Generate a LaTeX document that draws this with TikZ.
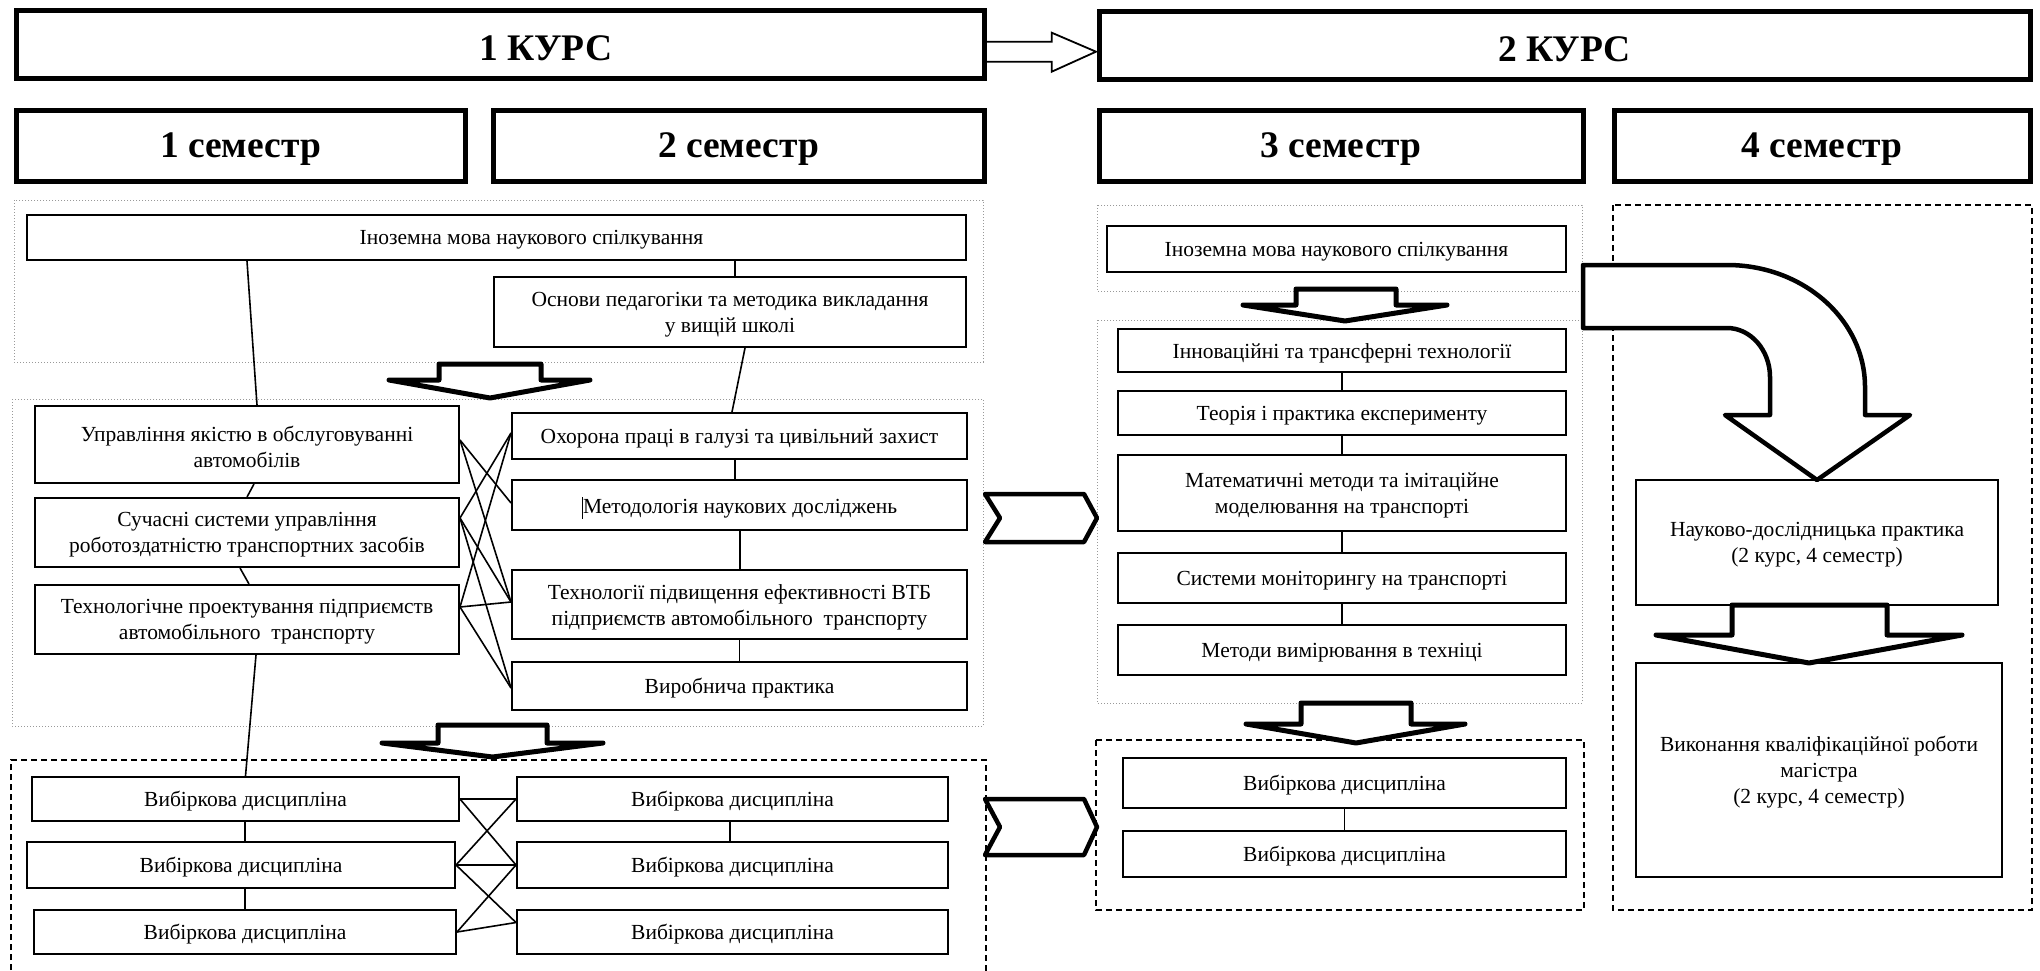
\documentclass[tikz,border=0pt]{standalone}
\usepackage{fontspec}
\setmainfont{Liberation Serif}
\usetikzlibrary{calc}
\tikzset{
  hdr/.style={draw, line width=5pt, fill=white, inner sep=0pt},
  hdrtext/.style={inner sep=0pt, yshift=-3.5pt, font=\fontsize{37.5}{41}\selectfont\bfseries},
  box/.style={draw, line width=2pt, fill=white, inner sep=0pt},
  boxtext/.style={inner sep=0pt, yshift=-2.5pt, align=center, font=\fontsize{21.5}{26}\selectfont},
  conn/.style={line width=1.6pt},
  grayframe/.style={draw=gray!80, dotted, line width=1pt},
  dashframe/.style={draw, dash pattern=on 6pt off 4pt, line width=2pt},
  blockarrow/.style={draw, fill=white, line width=5pt, line join=round},
  thinarrow/.style={draw, fill=white, line width=1.8pt, line join=miter},
}
\newcommand\rbox[7]{\node[#1, minimum width={#4-#3}, minimum height={#6-#5}] (#2) at ({(#3+#4)/2},{(#5+#6)/2}) {};
  \node[#1text] (#2-t) at (#2) {#7};}
\begin{document}
\begin{tikzpicture}[x=1pt,y=-1pt]
\useasboundingbox (0,0) rectangle (2040,971);

% containers
\draw[grayframe] (14,200) rectangle (983,362);
\draw[grayframe] (12,399) rectangle (983,726);
\draw[dashframe] (11,980) -- (11,760) -- (986,760) -- (986,980);
\draw[grayframe] (1097,205) rectangle (1582,291);
\draw[grayframe] (1097,320) rectangle (1582,703);
\draw[dashframe] (1096,740) rectangle (1584,910);
\draw[dashframe] (1613,205) rectangle (2032,910);

% headers
\rbox{hdr}{k1}{16}{984}{11}{79}{\hspace*{92pt}1 КУРС}
\rbox{hdr}{k2}{1099}{2030}{12}{80}{2 КУРС}
\rbox{hdr}{s1}{16}{465}{111}{181}{1 семестр}
\rbox{hdr}{s2}{493}{984}{111}{181}{2 семестр}
\rbox{hdr}{s3}{1099}{1583}{111}{181}{3 семестр}
\rbox{hdr}{s4}{1614}{2030}{111}{181}{4 семестр}

% arrow between courses
\draw[thinarrow] (987,41.7) -- (1051.7,41.7) -- (1051.7,32.7) -- (1096,51.7) -- (1051.7,71.7) -- (1051.7,61.7) -- (987,61.7);

% course 1 boxes
\rbox{box}{inoz1}{27}{966}{215}{260}{\hspace*{70pt}Іноземна мова наукового спілкування}
\rbox{box}{osn}{494}{966}{277}{347}{Основи педагогіки та методика викладання\\у вищій школі}
\rbox{box}{upr}{35}{459}{406}{483}{Управління якістю в обслуговуванні\\автомобілів}
\rbox{box}{such}{35}{459}{498}{567}{Сучасні системи управління\\роботоздатністю транспортних засобів}
\rbox{box}{tekhp}{35}{459}{585}{654}{Технологічне проектування підприємств\\автомобільного\ \ транспорту}
\rbox{box}{okh}{512}{967}{413}{459}{Охорона праці в галузі та цивільний захист}
\rbox{box}{met}{512}{967}{480}{530}{\rule[-5pt]{1.2pt}{22pt}Методологія наукових досліджень}
\rbox{box}{tekhv}{512}{967}{570}{639}{Технології підвищення ефективності ВТБ\\підприємств автомобільного\ \ транспорту}
\rbox{box}{vyr}{512}{967}{662}{710}{Виробнича практика}
\rbox{box}{vl1}{32}{459}{777}{821}{Вибіркова дисципліна}
\rbox{box}{vl2}{27}{455}{842}{888}{Вибіркова дисципліна}
\rbox{box}{vl3}{34}{456}{910}{954}{Вибіркова дисципліна}
\rbox{box}{vr1}{517}{948}{777}{821}{Вибіркова дисципліна}
\rbox{box}{vr2}{517}{948}{842}{888}{Вибіркова дисципліна}
\rbox{box}{vr3}{517}{948}{910}{954}{Вибіркова дисципліна}

% course 2 boxes
\rbox{box}{inoz3}{1107}{1566}{226}{272}{Іноземна мова наукового спілкування}
\rbox{box}{inn}{1118}{1566}{329}{372}{Інноваційні та трансферні технології}
\rbox{box}{teor}{1118}{1566}{391}{435}{Теорія і практика експерименту}
\rbox{box}{mat}{1118}{1566}{455}{531}{Математичні методи та імітаційне\\моделювання на транспорті}
\rbox{box}{sys}{1118}{1566}{553}{603}{Системи моніторингу на транспорті}
\rbox{box}{metv}{1118}{1566}{625}{675}{Методи вимірювання в техніці}
\rbox{box}{v31}{1123}{1566}{758}{808}{Вибіркова дисципліна}
\rbox{box}{v32}{1123}{1566}{831}{877}{Вибіркова дисципліна}
\rbox{box}{nauk}{1636}{1998}{480}{605}{Науково-дослідницька практика\\(2 курс, 4 семестр)}
\rbox{box}{vyk}{1636}{2002}{663}{877}{Виконання кваліфікаційної роботи\\магістра\\(2 курс, 4 семестр)}

% vertical connectors, course 1
\draw[conn] ($(inoz1.south)+(-249.5,0)$) -- ($(upr.north)+(10,0)$);
\draw[conn] ($(inoz1.south)+(238.5,0)$) -- ($(osn.north)+(5,0)$);
\draw[conn] ($(osn.south)+(15,0)$) -- ($(okh.north)+(-7.5,0)$);
\draw[conn] ($(upr.south)+(7,0)$) -- (such.north);
\draw[conn] ($(such.south)+(-7,0)$) -- ($(tekhp.north)+(2,0)$);
\draw[conn] ($(tekhp.south)+(9,0)$) -- (vl1.north);
\draw[conn] ($(okh.south)+(-4.5,0)$) -- ($(met.north)+(-4.5,0)$);
\draw[conn] ($(met.south)+(0.5,0)$) -- ($(tekhv.north)+(0.5,0)$);
\draw[conn] (tekhv.south) -- (vyr.north);
\draw[conn] ($(vl1.south)+(-0.5,0)$) -- ($(vl2.north)+(4,0)$);
\draw[conn] ($(vl2.south)+(4,0)$) -- ($(vl3.north)+(0,0)$);
\draw[conn] ($(vr1.south)+(-2.5,0)$) -- ($(vr2.north)+(-2.5,0)$);

% crossing connectors
\coordinate (uE) at ($(upr.east)+(0,-4.5)$);
\coordinate (sE) at ($(such.east)+(0,-14.5)$);
\coordinate (tE) at ($(tekhp.east)+(0,-12.5)$);
\coordinate (oW) at ($(okh.west)+(0,-3)$);
\coordinate (mW) at ($(met.west)+(0,-2)$);
\coordinate (tW) at ($(tekhv.west)+(0,-2.5)$);
\coordinate (vW) at ($(vyr.west)+(0,2)$);
\draw[conn] (uE) -- (mW);
\draw[conn] (uE) -- (tW);
\draw[conn] (sE) -- (oW);
\draw[conn] (sE) -- (tW);
\draw[conn] (sE) -- (vW);
\draw[conn] (tE) -- (oW);
\draw[conn] (tE) -- (tW);
\draw[conn] (tE) -- (vW);

\coordinate (r3W) at ($(vr3.west)+(0,-9.5)$);
\draw[conn] (vl1.east) -- (vr1.west);
\draw[conn] (vl1.east) -- (vr2.west);
\draw[conn] (vr1.west) -- (vl2.east);
\draw[conn] (vl2.east) -- (vr2.west);
\draw[conn] (vl2.east) -- (r3W);
\draw[conn] (vr2.west) -- (vl3.east);
\draw[conn] (vl3.east) -- (r3W);

% vertical connectors, course 2
\draw[conn] (inn.south) -- (teor.north);
\draw[conn] (teor.south) -- (mat.north);
\draw[conn] (mat.south) -- (sys.north);
\draw[conn] (sys.south) -- (metv.north);
\draw[conn] (v31.south) -- (v32.north);

% block down arrows
\draw[blockarrow] (439,364) -- (541,364) -- (541,380) -- (590,380) -- (490,398) -- (389,380) -- (439,380) -- cycle;
\draw[blockarrow] (438,725) -- (547,725) -- (547,743) -- (603,743) -- (492.5,757) -- (382,743) -- (438,743) -- cycle;
\draw[blockarrow] (1296,289) -- (1396,289) -- (1396,305) -- (1447,305) -- (1345,321) -- (1243,305) -- (1296,305) -- cycle;
\draw[blockarrow] (1301,703) -- (1411,703) -- (1411,724) -- (1465,724) -- (1356,743) -- (1246,724) -- (1301,724) -- cycle;
\draw[blockarrow] (1732,605) -- (1887,605) -- (1887,635) -- (1962,635) -- (1809,663) -- (1656,635) -- (1732,635) -- cycle;

% chevrons
\draw[blockarrow, line width=4.5pt] (985,494) -- (1084,494) -- (1097,518) -- (1084,542) -- (985,542) -- (1000,518) -- cycle;
\draw[blockarrow, line width=4.5pt] (985,799) -- (1084,799) -- (1097,827) -- (1084,855) -- (985,855) -- (1000,827) -- cycle;

% curved arrow
\draw[blockarrow, line width=4.5pt] (1583,265) -- (1727,265)
  .. controls (1803.2,265) and (1865,319.6) .. (1865,387)
  -- (1865,415) -- (1910,415) -- (1817,480) -- (1725,415) -- (1770,415) -- (1770,377)
  .. controls (1770,350.2) and (1750.7,328) .. (1727,328)
  -- (1583,328) -- cycle;
\end{tikzpicture}
\end{document}
